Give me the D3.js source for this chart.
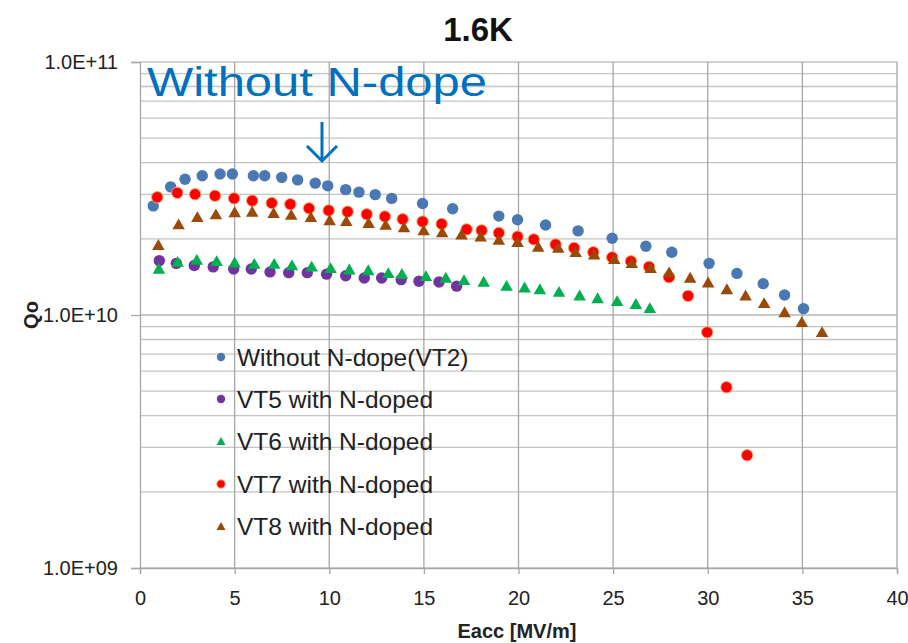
<!DOCTYPE html>
<html>
<head>
<meta charset="utf-8">
<script src="https://cdn.jsdelivr.net/npm/d3@7"></script>
<style>
  html, body { margin: 0; padding: 0; background: #fff; }
  svg { display: block; }
</style>
</head>
<body>
<svg id="chart" width="908" height="643"></svg>
<script>
// Qo vs Eacc at 1.6 K
const vt2E = [0.70, 1.62, 2.38, 3.29, 4.23, 4.88, 5.99, 6.59, 7.49, 8.33, 9.26, 9.92, 10.87, 11.57, 12.43, 13.30, 14.93, 16.52, 18.96, 19.95, 21.43, 23.15, 24.95, 26.73, 28.10, 30.07, 31.54, 32.93, 34.06, 35.06];
const vt2Q = [2.70e10, 3.21e10, 3.44e10, 3.55e10, 3.61e10, 3.61e10, 3.55e10, 3.55e10, 3.50e10, 3.42e10, 3.32e10, 3.24e10, 3.13e10, 3.06e10, 2.99e10, 2.89e10, 2.76e10, 2.63e10, 2.46e10, 2.38e10, 2.27e10, 2.15e10, 2.01e10, 1.87e10, 1.77e10, 1.60e10, 1.46e10, 1.33e10, 1.20e10, 1.06e10];

const vt5E = [1.02, 1.92, 2.87, 3.87, 4.95, 5.88, 6.87, 7.86, 8.84, 9.86, 10.87, 11.85, 12.77, 13.80, 14.74, 15.80, 16.73];
const vt5Q = [1.64e10, 1.60e10, 1.57e10, 1.55e10, 1.52e10, 1.52e10, 1.48e10, 1.47e10, 1.47e10, 1.45e10, 1.43e10, 1.40e10, 1.40e10, 1.38e10, 1.36e10, 1.35e10, 1.30e10];

const vt6E = [1.00, 1.99, 3.00, 4.05, 5.00, 6.04, 7.09, 8.03, 9.07, 10.07, 11.06, 12.06, 13.12, 13.84, 15.11, 16.16, 17.12, 18.16, 19.37, 20.32, 21.13, 22.14, 23.23, 24.18, 25.21, 26.20, 26.94];
const vt6Q = [1.53e10, 1.63e10, 1.66e10, 1.64e10, 1.62e10, 1.60e10, 1.60e10, 1.58e10, 1.56e10, 1.54e10, 1.52e10, 1.51e10, 1.47e10, 1.46e10, 1.43e10, 1.41e10, 1.38e10, 1.36e10, 1.31e10, 1.29e10, 1.27e10, 1.24e10, 1.20e10, 1.17e10, 1.14e10, 1.11e10, 1.07e10];

const vt7E = [0.91, 1.97, 2.91, 3.96, 4.97, 5.93, 6.96, 7.94, 8.93, 9.97, 10.97, 11.98, 12.94, 13.88, 14.93, 15.94, 17.26, 18.05, 18.96, 19.95, 20.81, 21.96, 22.94, 23.95, 24.95, 25.94, 26.90, 27.95, 28.96, 29.97, 30.99, 32.08];
const vt7Q = [2.92e10, 3.04e10, 3.00e10, 2.96e10, 2.89e10, 2.83e10, 2.77e10, 2.74e10, 2.64e10, 2.59e10, 2.56e10, 2.50e10, 2.45e10, 2.39e10, 2.34e10, 2.29e10, 2.18e10, 2.16e10, 2.11e10, 2.04e10, 1.99e10, 1.90e10, 1.84e10, 1.77e10, 1.69e10, 1.63e10, 1.55e10, 1.41e10, 1.19e10, 8.54e9, 5.18e9, 2.79e9];

const vt8E = [0.97, 2.04, 3.03, 4.01, 5.00, 5.93, 7.06, 7.99, 9.03, 10.02, 10.90, 12.08, 12.98, 13.95, 14.99, 15.97, 16.99, 18.00, 18.96, 19.95, 21.04, 22.10, 23.02, 24.00, 25.06, 25.99, 26.98, 27.96, 29.07, 30.02, 31.01, 32.00, 32.98, 34.06, 34.97, 36.04];
const vt8Q = [1.90e10, 2.29e10, 2.45e10, 2.51e10, 2.56e10, 2.57e10, 2.54e10, 2.50e10, 2.45e10, 2.38e10, 2.36e10, 2.32e10, 2.28e10, 2.23e10, 2.17e10, 2.13e10, 2.09e10, 2.05e10, 1.99e10, 1.95e10, 1.87e10, 1.85e10, 1.78e10, 1.74e10, 1.67e10, 1.61e10, 1.54e10, 1.48e10, 1.41e10, 1.35e10, 1.27e10, 1.20e10, 1.12e10, 1.03e10, 9.41e9, 8.59e9];

const seriesNames = ["Without N-dope(VT2)", "VT5 with N-doped", "VT6 with N-doped", "VT7 with N-doped", "VT8 with N-doped"];
const xTicks = [0, 5, 10, 15, 20, 25, 30, 35, 40];
const yTicks = [1e9, 1e10, 1e11];
const yTickLabels = ["1.0E+09", "1.0E+10", "1.0E+11"];

const series = [
  { name: seriesNames[0], e: vt2E, q: vt2Q, shape: "circle", fill: "#4a78b2", stroke: "none" },
  { name: seriesNames[1], e: vt5E, q: vt5Q, shape: "circle", fill: "#7133a0", stroke: "none" },
  { name: seriesNames[2], e: vt6E, q: vt6Q, shape: "triangle", fill: "#00b050", stroke: "none" },
  { name: seriesNames[3], e: vt7E, q: vt7Q, shape: "circle", fill: "#ff0000", stroke: "#f6a86a" },
  { name: seriesNames[4], e: vt8E, q: vt8Q, shape: "triangle", fill: "#9a4a08", stroke: "none" }
];

const svg = d3.select("#chart");
const font = "'Liberation Sans', Arial, sans-serif";
const plot = { left: 140, right: 897, top: 62, bottom: 568 };

const x = d3.scaleLinear().domain([0, 40]).range([plot.left, plot.right]);
const y = d3.scaleLog().domain([1e9, 1e11]).range([plot.bottom, plot.top]);

// minor horizontal gridlines at every 1..9 per decade
const minorY = [];
for (let d = 1e9; d < 1e11; d *= 10) for (let k = 1; k <= 10; k++) minorY.push(d * k);
svg.append("g").selectAll("line").data(minorY).join("line")
  .attr("x1", plot.left).attr("x2", plot.right)
  .attr("y1", d => y(d)).attr("y2", d => y(d))
  .attr("stroke", "#c4c4c4").attr("stroke-width", 1.3);

svg.append("g").selectAll("line").data(xTicks.slice(1)).join("line")
  .attr("x1", d => x(d)).attr("x2", d => x(d))
  .attr("y1", plot.top).attr("y2", plot.bottom)
  .attr("stroke", "#a6a6a6").attr("stroke-width", 1.3);

// axes
const xAxis = d3.axisBottom(x).tickValues(xTicks).tickSize(6).tickFormat(d3.format("d"));
const gx = svg.append("g").attr("transform", `translate(0,${plot.bottom})`).call(xAxis);
gx.select(".domain").attr("stroke", "#a6a6a6").attr("stroke-width", 1.3);
gx.selectAll(".tick line").attr("stroke", "#a6a6a6").attr("stroke-width", 1.3);
gx.selectAll(".tick text").attr("font-family", font).attr("font-size", 20).attr("fill", "#222")
  .attr("y", 37).attr("dy", null);

const yAxis = d3.axisLeft(y).tickValues(yTicks).tickSize(9).tickFormat((d, i) => yTickLabels[i]);
const gy = svg.append("g").attr("transform", `translate(${plot.left},0)`).call(yAxis);
gy.select(".domain").attr("stroke", "#a6a6a6").attr("stroke-width", 1.3);
gy.selectAll(".tick line").attr("stroke", "#a6a6a6").attr("stroke-width", 1.3);
gy.selectAll(".tick text").attr("font-family", font).attr("font-size", 20).attr("fill", "#222").attr("x", -22);

// markers
const tri = d3.symbol().type(d3.symbolTriangle);
function drawMarker(g, s, size, side) {
  if (s.shape === "circle") {
    g.append("circle").attr("r", size).attr("fill", s.fill)
      .attr("stroke", s.stroke).attr("stroke-width", s.stroke === "none" ? 0 : 1);
  } else {
    const area = side * side * Math.sqrt(3) / 4;
    const h = side * Math.sqrt(3) / 2;
    g.append("path").attr("d", tri.size(area)()).attr("fill", s.fill)
      .attr("transform", `translate(0,${h / 6})`);
  }
}

series.forEach(s => {
  const g = svg.append("g");
  s.e.forEach((e, i) => {
    const m = g.append("g").attr("transform", `translate(${x(e)},${y(s.q[i])})`);
    drawMarker(m, s, 5.7, 12.5);
  });
});

// legend
const legend = svg.append("g");
const legendRows = [357, 399, 441, 484, 526];
series.forEach((s, i) => {
  const row = legend.append("g").attr("transform", `translate(221,${legendRows[i]})`);
  drawMarker(row, s, 4.2, 9);
  row.append("text").attr("x", 16).attr("y", 8.5)
    .attr("font-family", font).attr("font-size", 24.5).attr("fill", "#222")
    .text(s.name);
});

// title and axis titles
svg.append("text").attr("x", 478).attr("y", 41).attr("text-anchor", "middle")
  .attr("font-family", font).attr("font-size", 33).attr("font-weight", "bold").attr("fill", "#111")
  .text("1.6K");
svg.append("text").attr("x", 517).attr("y", 638).attr("text-anchor", "middle")
  .attr("font-family", font).attr("font-size", 20).attr("font-weight", "bold").attr("fill", "#222")
  .text("Eacc [MV/m]");
svg.append("text").attr("transform", "translate(38,315) rotate(-90)").attr("text-anchor", "middle")
  .attr("font-family", font).attr("font-size", 20).attr("font-weight", "bold").attr("fill", "#222")
  .text("Qo");

// annotation with arrow
svg.append("text").attr("x", 147).attr("y", 96)
  .attr("font-family", font).attr("font-size", 40).attr("fill", "#0070c0")
  .attr("textLength", 340).attr("lengthAdjust", "spacingAndGlyphs")
  .text("Without N-dope");
svg.append("path").attr("d", "M322,122 L322,160 M307,146 L322,161 L337,146")
  .attr("fill", "none").attr("stroke", "#0070c0").attr("stroke-width", 3);
</script>
</body>
</html>
